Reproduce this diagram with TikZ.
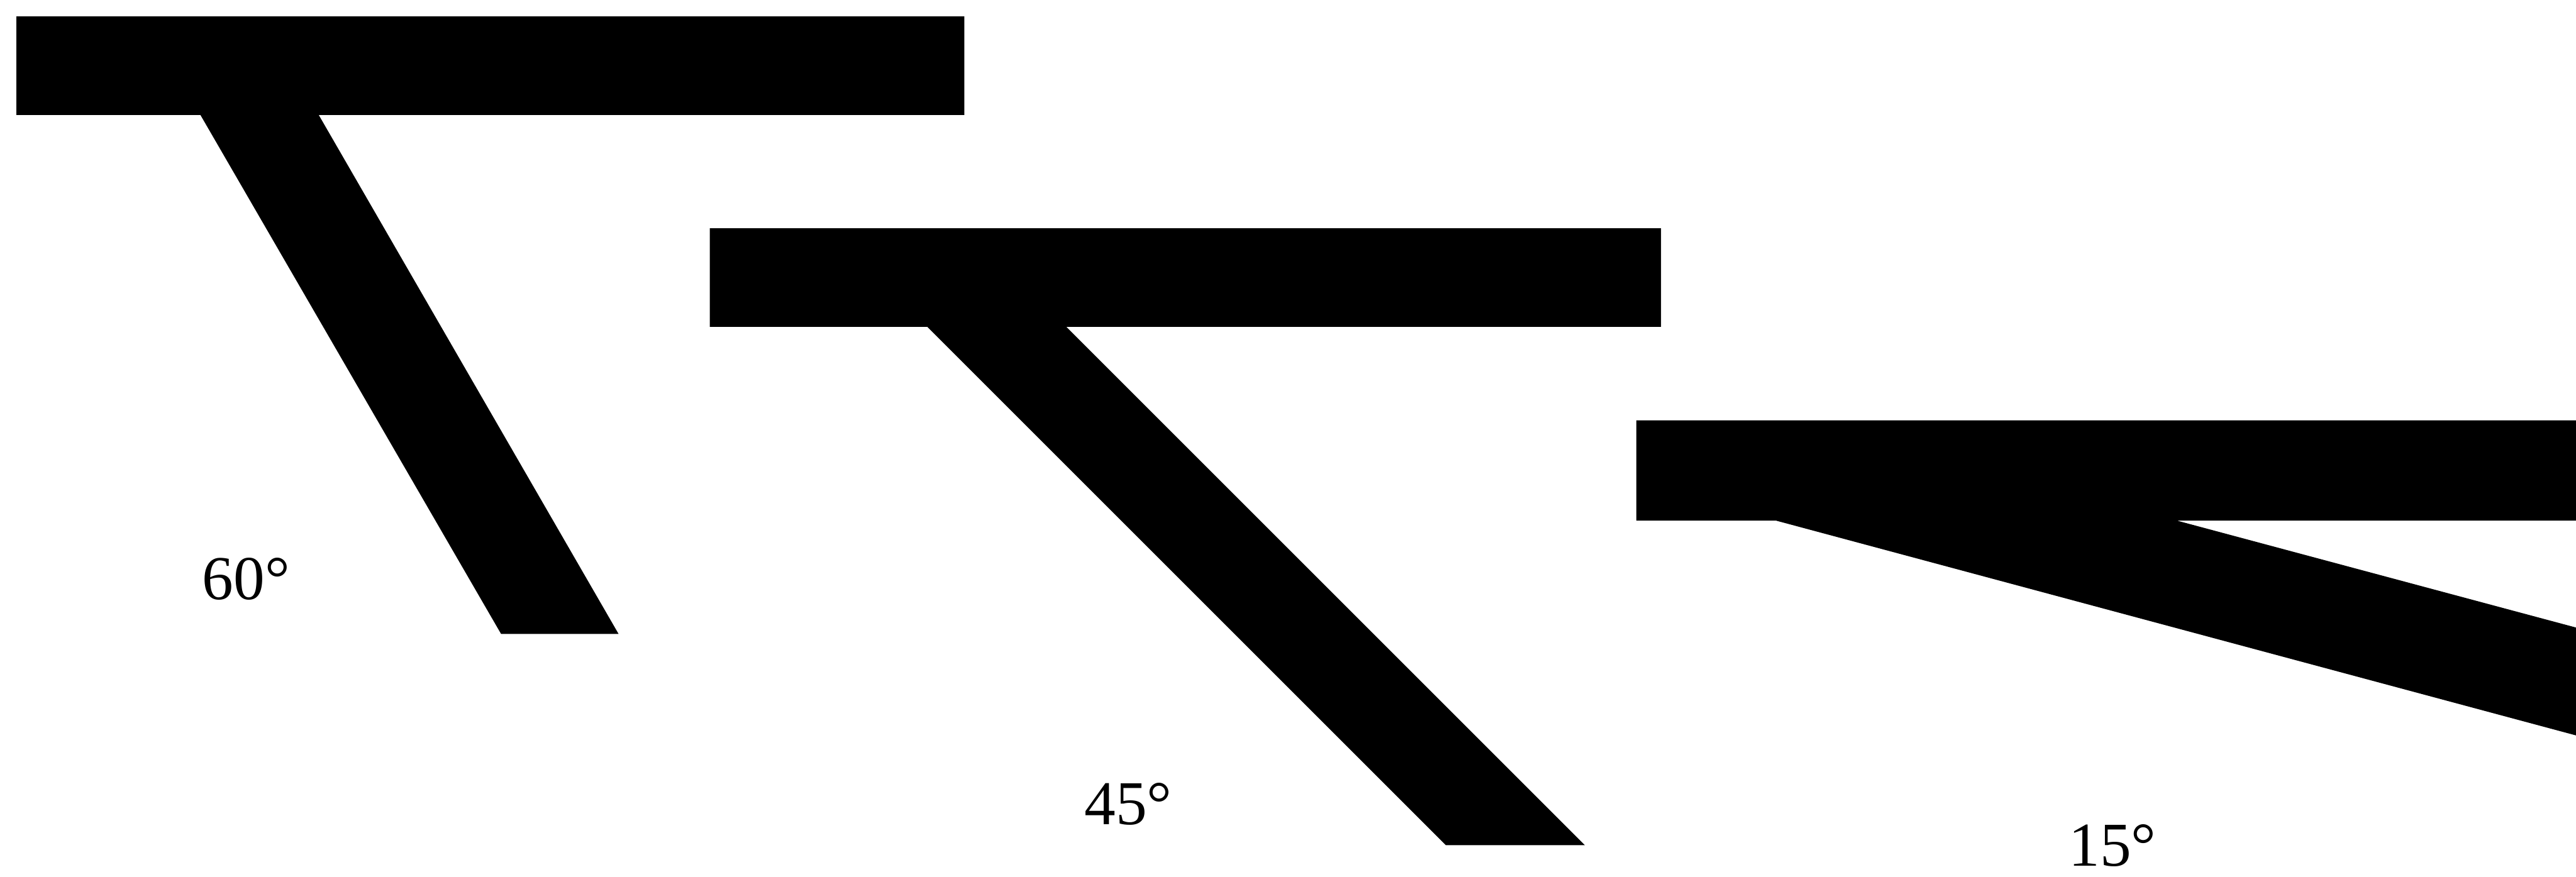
\documentclass[tikz,border=0pt]{standalone}
\usepackage{fontspec}
\setmainfont{Liberation Serif}
\begin{document}
\begin{tikzpicture}[x=1pt,y=-1pt,
  solid/.style={fill=black,draw=none},
  lbl/.style={inner sep=0pt,anchor=base west,font=\fontsize{38}{40}\selectfont}]
\useasboundingbox (0,0) rectangle (1568,534);
\clip (0,0) rectangle (1568,534);
% T at 60 degrees
\fill[solid] (10,10) -- (587,10) -- (587,70) -- (194,70) -- (376.5,386) -- (305,386) -- (122,70) -- (10,70) -- cycle;
% T at 45 degrees
\fill[solid] (432,139) -- (1011,139) -- (1011,199) -- (649,199) -- (964.6,514.6) -- (880,514.6) -- (564.4,199) -- (432,199) -- cycle;
% T at 15 degrees
\fill[solid] (996,256) -- (1600,256) -- (1600,317) -- (1325,317) -- (1600,390.7) -- (1600,456.4) -- (1081,317) -- (996,317) -- cycle;
% labels
\node[lbl] (l60) at (123,365) {60°};
\node[lbl] (l45) at (660,502) {45°};
\node[lbl] (l15) at (1259,527.5) {15°};
\end{tikzpicture}
\end{document}
